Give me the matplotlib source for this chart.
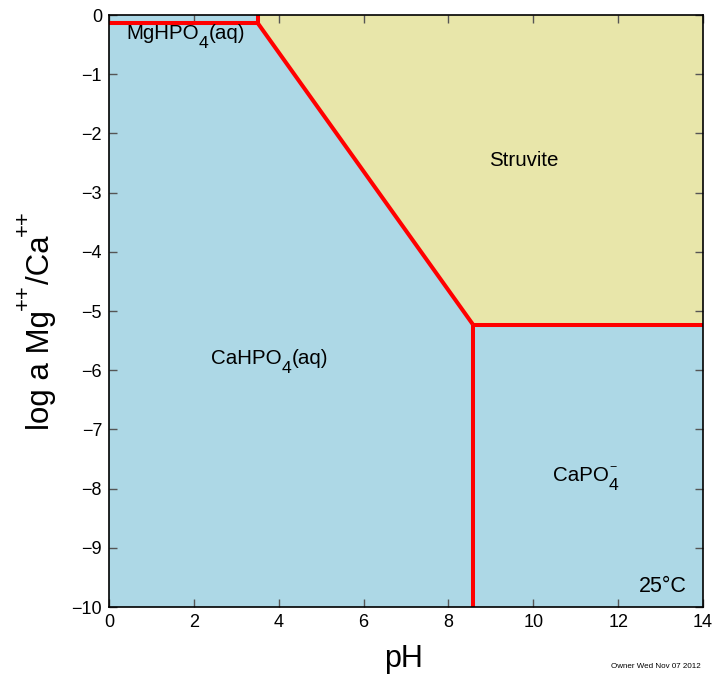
import matplotlib
matplotlib.use("Agg")
import matplotlib.pyplot as plt
from matplotlib.patches import Polygon
from matplotlib.transforms import ScaledTranslation

plt.rcParams['font.family'] = ['Liberation Sans', 'DejaVu Sans']

# Diagram data
ph_range = [0, 14]
logr_range = [-10, 0]
ph_mg = 3.51          # MgHPO4 / CaHPO4 / struvite junction
logr_mg = -0.14
ph_triple = 8.58      # CaHPO4 / CaPO4- / struvite triple point
logr_triple = -5.23

# region labels: pieces of (text, size scale, rise in em, mode)
region_labels = [
    [("MgHPO", 1, 0, 'adv'), ("4", 0.85, -0.42, 'adv'), ("(aq)", 1, 0, 'adv')],
    [("Struvite", 1, 0, 'adv')],
    [("CaHPO", 1, 0, 'adv'), ("4", 0.85, -0.42, 'adv'), ("(aq)", 1, 0, 'adv')],
    [("CaPO", 1, 0, 'adv'), ("4", 0.85, -0.42, 'adv'), ("\u2212", 0.6, 0.55, 'stack')],
]
label_x = [1.8, 9.78, 3.78, 10.47]
label_y = [-0.405, -2.55, -5.90, -7.87]
label_ha = ['center', 'center', 'center', 'left']

blue = '#add8e6'
yellow = '#e8e6aa'

fig = plt.figure(figsize=(7.15, 6.74), dpi=100)
ax = fig.add_axes([0.1524, 0.0994, 0.8308, 0.8783])
renderer = fig.canvas.get_renderer()


def piece_width(txt, size):
    t = fig.text(0, 0, txt, fontsize=size)
    w = t.get_window_extent(renderer).width * 72.0 / fig.dpi
    t.remove()
    return w


def rich(x, y, pieces, size, transform, ha='center', rotation=0, zorder=4):
    widths = [piece_width(p[0], size * p[1]) for p in pieces]
    total = sum(w for w, p in zip(widths, pieces) if p[3] == 'adv')
    cursor = -total / 2 if ha == 'center' else 0.0
    prev_start = cursor
    target = fig if transform is fig.transFigure else ax
    for (txt, sc, rise, mode), w in zip(pieces, widths):
        start = prev_start if mode == 'stack' else cursor
        r = rise * size
        if rotation == 90:
            dx, dy = -r, start
        else:
            dx, dy = start, r
        tr = transform + ScaledTranslation(dx / 72.0, dy / 72.0, fig.dpi_scale_trans)
        target.text(x, y, txt, fontsize=size * sc, ha='left', va='baseline',
                    rotation=rotation, rotation_mode='anchor', transform=tr, zorder=zorder)
        if mode == 'adv':
            prev_start = cursor
            cursor += w


x0, x1 = ph_range
y0, y1 = logr_range

polys = [
    ([(x0, y1), (ph_mg, y1), (ph_mg, logr_mg), (x0, logr_mg)], blue),
    ([(ph_mg, y1), (x1, y1), (x1, logr_triple), (ph_triple, logr_triple), (ph_mg, logr_mg)], yellow),
    ([(x0, logr_mg), (ph_mg, logr_mg), (ph_triple, logr_triple), (ph_triple, y0), (x0, y0)], blue),
    ([(ph_triple, logr_triple), (x1, logr_triple), (x1, y0), (ph_triple, y0)], blue),
]
for pts, c in polys:
    ax.add_patch(Polygon(pts, closed=True, facecolor=c, edgecolor='none', zorder=1))

red = '#ff0000'
lw = 2.9
ax.plot([x0, ph_mg], [logr_mg, logr_mg], color=red, lw=lw, zorder=3, solid_capstyle='butt')
ax.plot([ph_mg, ph_mg], [logr_mg, y1], color=red, lw=lw, zorder=3, solid_capstyle='butt')
ax.plot([ph_mg, ph_triple], [logr_mg, logr_triple], color=red, lw=lw, zorder=3, solid_capstyle='butt')
ax.plot([ph_triple, x1], [logr_triple, logr_triple], color=red, lw=lw, zorder=3, solid_capstyle='butt')
ax.plot([ph_triple, ph_triple], [logr_triple, y0], color=red, lw=lw, zorder=3, solid_capstyle='butt')

ax.set_xlim(x0, x1)
ax.set_ylim(y0, y1)
ax.set_xticks(range(0, 15, 2))
ax.set_yticks(range(-10, 1, 1))
ax.tick_params(direction='in', top=True, right=True, length=6, width=1, labelsize=13, pad=5, color='#555555')
for s in ax.spines.values():
    s.set_linewidth(1.2)
    s.set_zorder(5)

for pieces, lx, ly, ha in zip(region_labels, label_x, label_y, label_ha):
    rich(lx, ly, pieces, 14.8, ax.transData, ha=ha)

ax.text(13.62, -9.75, "25°C", fontsize=15.5, ha='right', va='baseline', zorder=4)

# axis labels
fig.text(404 / 715, 1 - 667 / 674, "pH", fontsize=22, ha='center', va='baseline')
ylabel_pieces = [("log a Mg", 1, 0, 'adv'), ("++", 0.7, 0.65, 'adv'),
                 ("/Ca", 1, 0, 'adv'), ("++", 0.7, 0.65, 'adv')]
rich(49.3 / 715, 1 - 430 / 674, ylabel_pieces, 22.5, fig.transFigure, ha='left', rotation=90)

fig.text(655.5 / 715, 1 - 667 / 674, "Owner Wed Nov 07 2012", fontsize=5.8, ha='center', va='center')

fig.savefig("out.png", dpi=100)
